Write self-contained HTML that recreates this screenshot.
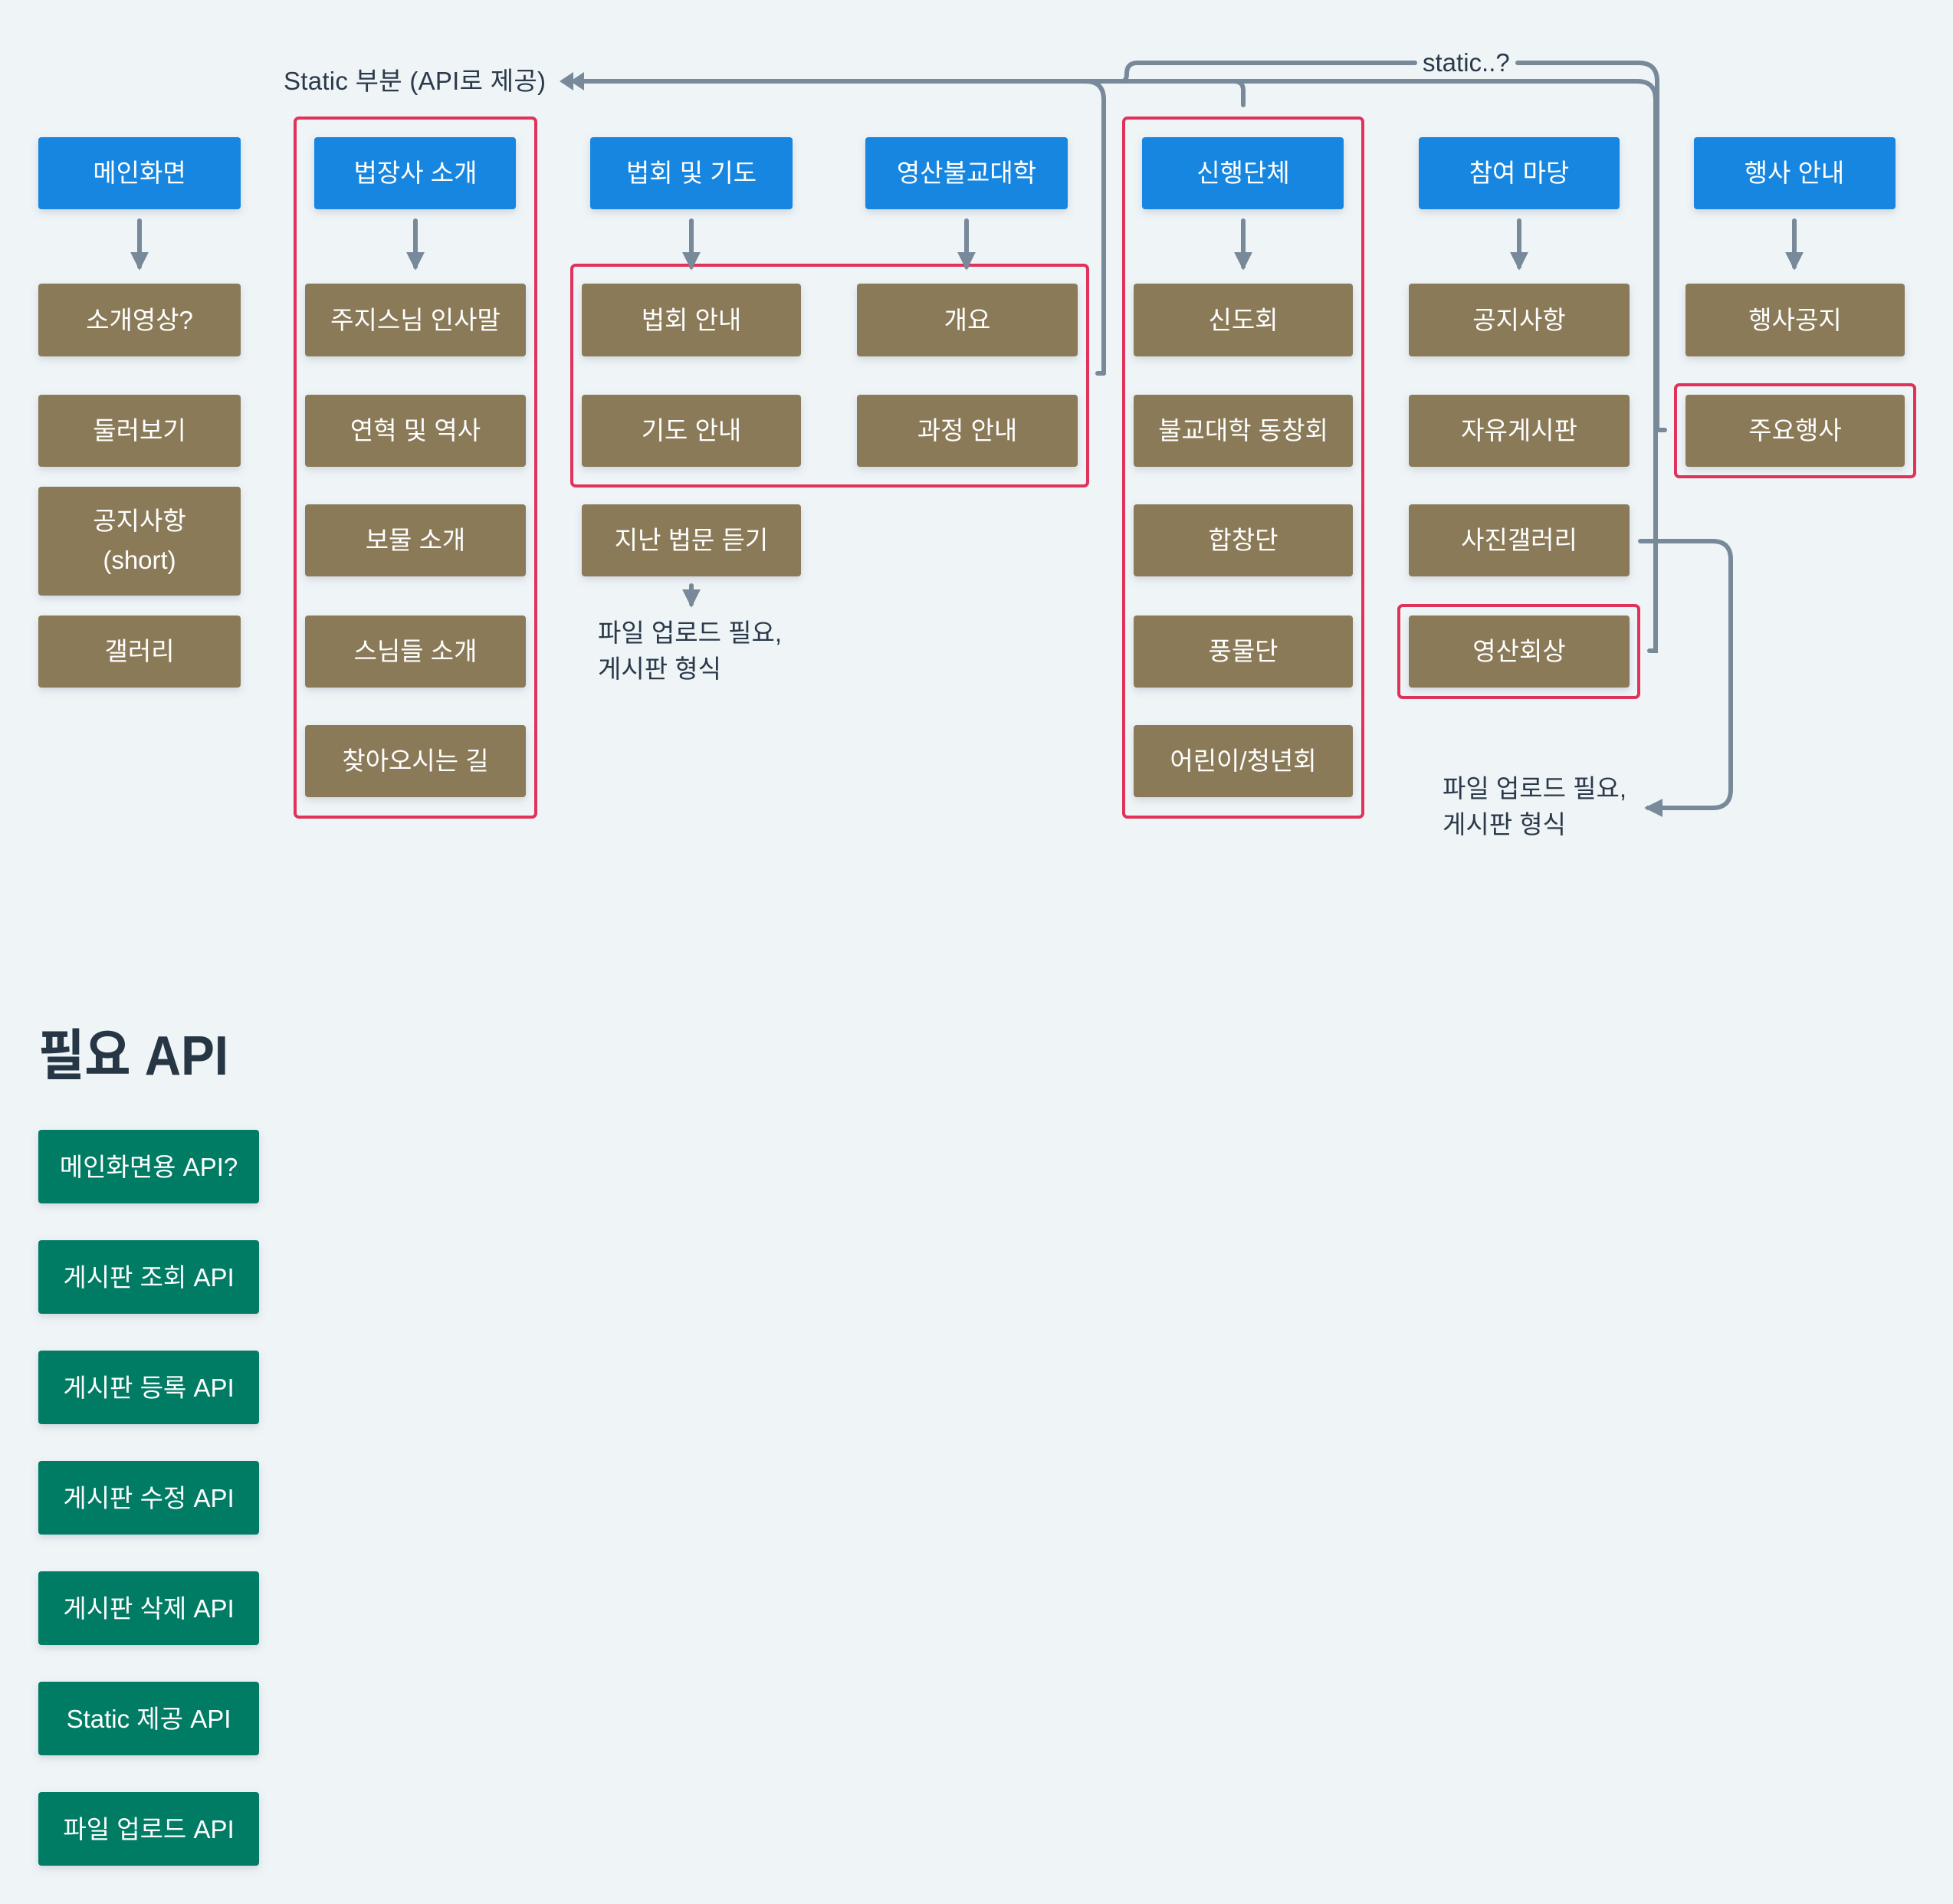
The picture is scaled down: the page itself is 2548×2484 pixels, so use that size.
<!DOCTYPE html>
<html><head><meta charset="utf-8"><style>
html,body{margin:0;padding:0;background:#eff4f7;}
svg{display:block;}
text{font-family:"Liberation Sans","Noto Sans CJK KR",sans-serif;}
</style></head><body>
<svg width="2548" height="2484" viewBox="0 0 2548 2484" xmlns="http://www.w3.org/2000/svg">
<defs>
<filter id="sh" x="-10%" y="-10%" width="120%" height="140%"><feDropShadow dx="0" dy="4" stdDeviation="5" flood-color="#5a6a7a" flood-opacity="0.22"/></filter>
<marker id="ah" viewBox="0 0 10 10" refX="8" refY="5" markerWidth="4" markerHeight="4" orient="auto-start-reverse"><path d="M0,0 L10,5 L0,10 z" fill="#788999"/></marker>
</defs>
<rect width="2548" height="2484" fill="#eff4f7"/>
<g fill="none" stroke="#e0325a" stroke-width="4">
<rect x="385" y="154" width="314" height="912" rx="5"/>
<rect x="746" y="346" width="673" height="288" rx="5"/>
<rect x="1466" y="154" width="312" height="912" rx="5"/>
<rect x="2186" y="502" width="312" height="120" rx="5"/>
<rect x="1825" y="790" width="313" height="120" rx="5"/>
</g>
<g stroke="#788999" stroke-width="6" fill="none" stroke-linecap="round">
<line x1="182" y1="288" x2="182" y2="348" marker-end="url(#ah)"/>
<line x1="542" y1="288" x2="542" y2="348" marker-end="url(#ah)"/>
<line x1="902" y1="288" x2="902" y2="348" marker-end="url(#ah)"/>
<line x1="1261" y1="288" x2="1261" y2="348" marker-end="url(#ah)"/>
<line x1="1622" y1="288" x2="1622" y2="348" marker-end="url(#ah)"/>
<line x1="1982" y1="288" x2="1982" y2="348" marker-end="url(#ah)"/>
<line x1="2341" y1="288" x2="2341" y2="348" marker-end="url(#ah)"/>
<line x1="902" y1="764" x2="902" y2="788" marker-end="url(#ah)"/>
<path d="M1440 487 L1440 130 Q1440 106 1416 106 L752 106"/>
<path d="M1416 106 L2136 106 Q2160 106 2160 130 L2160 849 L2152 849"/>
<path d="M1440 487 L1432 487"/>
<path d="M1610 106 Q1622 106 1622 118 L1622 137"/>
<path d="M1464 106 Q1470 106 1470 96 Q1470 82 1484 82 L1846 82"/>
<path d="M1980 82 L2138 82 Q2162 82 2162 106 L2162 561 L2172 561"/>
<path d="M2140 706 L2234 706 Q2258 706 2258 730 L2258 1030 Q2258 1054 2234 1054 L2150 1054" marker-end="url(#ah)"/>
</g>
<g fill="#788999">
<polygon points="730,106 748,94 748,118"/>
<polygon points="744,106 762,94 762,118"/>
</g>
<g font-size="33" fill="#2a3a4a">
<text x="370" y="117" textLength="342">Static 부분 (API로 제공)</text>
<text x="1856" y="93">static..?</text>
<text x="780" y="837">파일 업로드 필요,</text>
<text x="780" y="884">게시판 형식</text>
<text x="1882" y="1040">파일 업로드 필요,</text>
<text x="1882" y="1087">게시판 형식</text>
</g>
<g filter="url(#sh)" fill="#1886e0">
<rect x="50" y="179" width="264" height="94" rx="4"/>
<rect x="410" y="179" width="263" height="94" rx="4"/>
<rect x="770" y="179" width="264" height="94" rx="4"/>
<rect x="1129" y="179" width="264" height="94" rx="4"/>
<rect x="1490" y="179" width="263" height="94" rx="4"/>
<rect x="1851" y="179" width="262" height="94" rx="4"/>
<rect x="2210" y="179" width="263" height="94" rx="4"/>
</g>
<g filter="url(#sh)" fill="#8a7a59">
<rect x="50" y="370" width="264" height="95" rx="4"/>
<rect x="50" y="515" width="264" height="94" rx="4"/>
<rect x="50" y="635" width="264" height="142" rx="4"/>
<rect x="50" y="803" width="264" height="94" rx="4"/>
<rect x="398" y="370" width="288" height="95" rx="4"/>
<rect x="398" y="515" width="288" height="94" rx="4"/>
<rect x="398" y="658" width="288" height="94" rx="4"/>
<rect x="398" y="803" width="288" height="94" rx="4"/>
<rect x="398" y="946" width="288" height="94" rx="4"/>
<rect x="759" y="370" width="286" height="95" rx="4"/>
<rect x="759" y="515" width="286" height="94" rx="4"/>
<rect x="759" y="658" width="286" height="94" rx="4"/>
<rect x="1118" y="370" width="288" height="95" rx="4"/>
<rect x="1118" y="515" width="288" height="94" rx="4"/>
<rect x="1479" y="370" width="286" height="95" rx="4"/>
<rect x="1479" y="515" width="286" height="94" rx="4"/>
<rect x="1479" y="658" width="286" height="94" rx="4"/>
<rect x="1479" y="803" width="286" height="94" rx="4"/>
<rect x="1479" y="946" width="286" height="94" rx="4"/>
<rect x="1838" y="370" width="288" height="95" rx="4"/>
<rect x="1838" y="515" width="288" height="94" rx="4"/>
<rect x="1838" y="658" width="288" height="94" rx="4"/>
<rect x="1838" y="803" width="288" height="94" rx="4"/>
<rect x="2199" y="370" width="286" height="95" rx="4"/>
<rect x="2199" y="515" width="286" height="94" rx="4"/>
</g>
<g filter="url(#sh)" fill="#037c65">
<rect x="50" y="1474" width="288" height="96" rx="4"/>
<rect x="50" y="1618" width="288" height="96" rx="4"/>
<rect x="50" y="1762" width="288" height="96" rx="4"/>
<rect x="50" y="1906" width="288" height="96" rx="4"/>
<rect x="50" y="2050" width="288" height="96" rx="4"/>
<rect x="50" y="2194" width="288" height="96" rx="4"/>
<rect x="50" y="2338" width="288" height="96" rx="4"/>
</g>
<g font-size="33" fill="#ffffff" text-anchor="middle">
<text x="182" y="237">메인화면</text>
<text x="542" y="237">법장사 소개</text>
<text x="902" y="237">법회 및 기도</text>
<text x="1261" y="237">영산불교대학</text>
<text x="1622" y="237">신행단체</text>
<text x="1982" y="237">참여 마당</text>
<text x="2341" y="237">행사 안내</text>
<text x="182" y="429">소개영상?</text>
<text x="182" y="573">둘러보기</text>
<text x="182" y="691">공지사항</text>
<text x="182" y="742">(short)</text>
<text x="182" y="861">갤러리</text>
<text x="542" y="429">주지스님 인사말</text>
<text x="542" y="573">연혁 및 역사</text>
<text x="542" y="716">보물 소개</text>
<text x="542" y="861">스님들 소개</text>
<text x="542" y="1004">찾아오시는 길</text>
<text x="902" y="429">법회 안내</text>
<text x="902" y="573">기도 안내</text>
<text x="902" y="716">지난 법문 듣기</text>
<text x="1262" y="429">개요</text>
<text x="1262" y="573">과정 안내</text>
<text x="1622" y="429">신도회</text>
<text x="1622" y="573">불교대학 동창회</text>
<text x="1622" y="716">합창단</text>
<text x="1622" y="861">풍물단</text>
<text x="1622" y="1004">어린이/청년회</text>
<text x="1982" y="429">공지사항</text>
<text x="1982" y="573">자유게시판</text>
<text x="1982" y="716">사진갤러리</text>
<text x="1982" y="861">영산회상</text>
<text x="2342" y="429">행사공지</text>
<text x="2342" y="573">주요행사</text>
<text x="194" y="1534">메인화면용 API?</text>
<text x="194" y="1678">게시판 조회 API</text>
<text x="194" y="1822">게시판 등록 API</text>
<text x="194" y="1966">게시판 수정 API</text>
<text x="194" y="2110">게시판 삭제 API</text>
<text x="194" y="2254">Static 제공 API</text>
<text x="194" y="2398">파일 업로드 API</text>
</g>
<text x="50" y="1402" font-size="72" font-weight="bold" fill="#263645" textLength="248" lengthAdjust="spacingAndGlyphs">필요 API</text>
</svg>
</body></html>
